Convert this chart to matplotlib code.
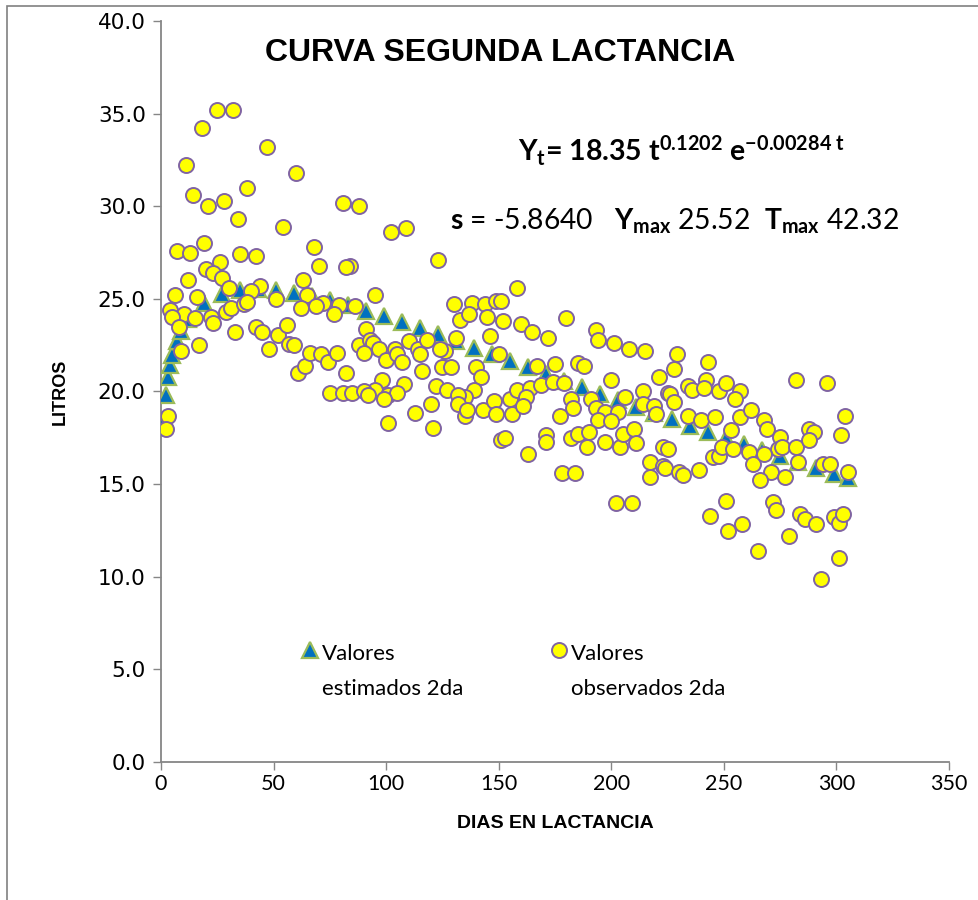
import matplotlib
matplotlib.use("Agg")
import matplotlib.pyplot as plt
from matplotlib.legend_handler import HandlerLine2D
from matplotlib.patches import Rectangle
from matplotlib.ticker import FormatStrFormatter

plt.rcParams['mathtext.fontset'] = 'custom'
plt.rcParams['mathtext.rm'] = 'Lato'
plt.rcParams['mathtext.bf'] = 'Lato:bold'
plt.rcParams['mathtext.it'] = 'Lato:italic'

# estimated values (Wood curve read at each plotted day)
dias_est = [1, 2, 3, 4, 5, 7, 9, 12, 19, 27, 35, 43, 51, 59, 67, 75, 83, 91, 99, 107,
            115, 123, 131, 139, 147, 155, 163, 171, 179, 187, 195, 203, 211, 219, 227,
            235, 243, 251, 259, 267, 275, 283, 291, 299, 305]
litros_est = [18.30, 19.83, 20.76, 21.43, 21.95, 22.73, 23.29, 23.91, 24.77, 25.26, 25.47,
              25.52, 25.47, 25.33, 25.15, 24.92, 24.66, 24.37, 24.06, 23.75, 23.41, 23.08,
              22.73, 22.37, 22.02, 21.66, 21.31, 20.95, 20.59, 20.23, 19.88, 19.53, 19.18,
              18.83, 18.49, 18.15, 17.81, 17.48, 17.15, 16.83, 16.51, 16.19, 15.88, 15.57,
              15.35]

# observed values
dias_obs = [25, 32, 18, 47, 11, 60, 38, 14, 21, 28, 34, 54, 7, 13, 19, 35, 42, 68, 70, 20,
            26, 23, 27, 30, 12, 63, 6, 16, 44, 40, 51, 65, 72, 4, 10, 15, 22, 29, 31, 37,
            38, 62, 69, 5, 8, 23, 33,
            9, 17, 42, 45, 48, 52, 56, 57, 59, 61, 64, 66, 71, 74, 75, 3, 2,
            81, 88, 102, 109, 123, 84, 82, 95, 79, 86, 77, 91, 88, 93, 94, 97, 90, 78, 82,
            100, 104, 105, 107, 110, 114, 115, 118, 116, 126, 124, 125, 129, 131, 130, 138,
            144, 149, 133, 137, 145, 146, 140, 142, 108, 98, 95, 81, 85, 90, 101, 105, 122,
            127, 139, 135, 132,
            92, 99, 101, 113, 120, 121, 132, 135, 136, 143, 148, 149, 151,
            158, 151, 180, 152, 160, 165, 172, 193, 194, 201, 208, 215, 150, 175, 167, 185,
            188, 200, 221, 155, 158, 164, 169, 174, 179, 162, 156, 161, 177, 182, 183, 191,
            193, 197, 203, 206, 214, 214, 219, 220, 225, 194, 200, 153, 163, 171, 171, 182,
            185, 190, 189, 197, 204, 205, 210, 211, 217, 223, 223, 178, 184,
            202, 209, 217, 224,
            229, 228, 243, 234, 236, 242, 241, 248, 251, 257, 255, 226, 228, 234, 240, 246,
            257, 262, 253, 268, 269, 275, 274, 276, 282, 282, 296, 304, 302, 288, 290, 288,
            283, 294, 297, 305, 225, 245, 248, 249, 254, 261, 263, 268, 271, 277, 230, 232,
            239, 266,
            251, 244, 252, 258, 265, 272, 273, 279, 284, 286, 291, 299, 301, 303, 301, 293]
litros_obs = [35.2, 35.2, 34.2, 33.2, 32.2, 31.8, 31.0, 30.6, 30.0, 30.3, 29.3, 28.9, 27.6,
              27.5, 28.0, 27.4, 27.3, 27.8, 26.8, 26.6, 27.0, 26.4, 26.1, 25.6, 26.0, 26.0,
              25.2, 25.1, 25.7, 25.4, 25.0, 25.2, 24.8, 24.4, 24.2, 23.95, 24.0, 24.3, 24.5,
              24.7, 24.85, 24.5, 24.6, 24.0, 23.5, 23.7, 23.2,
              22.2, 22.5, 23.5, 23.2, 22.3, 23.05, 23.6, 22.55, 22.5, 21.0, 21.4, 22.1, 22.0,
              21.6, 19.9, 18.7, 18.0,
              30.2, 30.0, 28.6, 28.8, 27.1, 26.8, 26.7, 25.2, 24.65, 24.6, 24.2, 23.4, 22.5,
              22.8, 22.6, 22.3, 22.1, 22.1, 21.0, 21.7, 22.3, 22.0, 21.6, 22.7, 22.3, 22.0,
              22.8, 21.1, 22.2, 22.3, 21.3, 21.3, 22.9, 24.75, 24.8, 24.7, 24.9, 23.85, 24.2,
              24.0, 23.0, 21.3, 20.8, 20.4, 20.6, 20.1, 19.9, 19.9, 20.0, 19.8, 19.9, 20.3,
              20.1, 20.1, 19.7, 19.8,
              19.8, 19.6, 18.3, 18.85, 19.35, 18.05, 19.35, 18.7, 19.0, 19.0, 19.5, 18.8, 17.4,
              25.6, 24.9, 23.95, 23.8, 23.65, 23.2, 22.9, 23.3, 22.8, 22.6, 22.3, 22.2, 22.0,
              21.5, 21.4, 21.55, 21.4, 20.6, 20.8, 19.6, 20.1, 20.2, 20.35, 20.5, 20.45, 19.7,
              18.8, 19.2, 18.7, 19.6, 19.1, 19.6, 19.1, 18.9, 18.9, 19.7, 20.0, 19.35, 19.2,
              18.8, 19.9, 18.45, 18.4, 17.5, 16.65, 17.65, 17.3, 17.5, 17.7, 17.8, 17.0, 17.25,
              17.0, 17.7, 18.0, 17.2, 16.2, 17.0, 16.0, 15.6, 15.6,
              14.0, 14.0, 15.4, 15.85,
              22.0, 21.2, 21.6, 20.3, 20.1, 20.6, 20.2, 20.0, 20.45, 20.05, 19.6, 19.85, 19.45,
              18.7, 18.45, 18.6, 18.6, 19.0, 17.9, 18.45, 17.95, 17.55, 16.9, 17.0, 17.0, 20.6,
              20.45, 18.7, 17.65, 18.0, 17.8, 17.4, 16.2, 16.1, 16.1, 15.65, 16.9, 16.45, 16.5,
              17.0, 16.9, 16.75, 16.1, 16.6, 15.65, 15.4, 15.65, 15.5, 15.75, 15.2,
              14.1, 13.3, 12.45, 12.85, 11.4, 14.05, 13.6, 12.2, 13.4, 13.1, 12.85, 13.2, 12.9,
              13.4, 11.0, 9.9]

grey = '#868686'

fig = plt.figure(figsize=(9.79, 9), dpi=100)
# outer chart border (left and top edges visible, others run off the picture)
fig.patches.append(Rectangle((7, -100), 1000, 994, transform=None, fill=False,
                             edgecolor='#808080', linewidth=1.2))

ax = fig.add_axes([161 / 979, 138 / 900, 788 / 979, 741 / 900])

l_est, = ax.plot(dias_est, litros_est, linestyle='none', marker='^', markersize=12,
                 markerfacecolor='#0070C0', markeredgecolor='#9BBB59', markeredgewidth=1.6,
                 label='Valores\nestimados 2da', zorder=3)
l_obs, = ax.plot(dias_obs, litros_obs, linestyle='none', marker='o', markersize=10.8,
                 markerfacecolor='#FFFF00', markeredgecolor='#8064A2', markeredgewidth=1.4,
                 label='Valores\nobservados 2da', zorder=4)

ax.set_xlim(0, 350)
ax.set_ylim(0, 40)
ax.set_xticks(range(0, 351, 50))
ax.set_yticks(range(0, 41, 5))
ax.yaxis.set_major_formatter(FormatStrFormatter('%.1f'))

for s in ['top', 'right']:
    ax.spines[s].set_visible(False)
for s in ['left', 'bottom']:
    ax.spines[s].set_color(grey)
    ax.spines[s].set_linewidth(1.3)

ax.tick_params(direction='out', length=6, width=1, color=grey)
ax.tick_params(axis='y', pad=5, labelsize=15.5)
ax.tick_params(axis='x', pad=3, labelsize=15.5)
for lab in ax.get_xticklabels():
    lab.set_family('Lato')
for lab in ax.get_yticklabels():
    lab.set_family('DejaVu Sans')

ax.set_xlabel('DIAS EN LACTANCIA', family='Liberation Sans', weight='bold', fontsize=14,
              labelpad=15)
ax.set_ylabel('LITROS', family='Liberation Sans', weight='bold', fontsize=13, labelpad=21)

fig.text(500 / 979, 1 - 53 / 900, 'CURVA SEGUNDA LACTANCIA', ha='center', va='center',
         family='Liberation Sans', weight='bold', fontsize=23)
fig.text(518 / 979, 1 - 161 / 900,
         r'Y$_\mathbf{t}$= 18.35 t$^\mathbf{0.1202}$ e$^\mathbf{-0.00284\ t}$',
         family='Lato', weight='bold', fontsize=20.5, va='baseline')
fig.text(450 / 979, 1 - 229 / 900,
         r'$\mathbf{s}$ = -5.8640   $\mathbf{Y_{max}}$ 25.52  $\mathbf{T_{max}}$ 42.32',
         family='Lato', fontsize=20.3, va='baseline')


class FirstLineHandler(HandlerLine2D):
    def create_artists(self, legend, orig_handle, xdescent, ydescent, width, height,
                       fontsize, trans):
        return super().create_artists(legend, orig_handle, xdescent,
                                      ydescent - 2.0 * fontsize, width, height,
                                      fontsize, trans)


leg = ax.legend(handles=[l_est, l_obs], ncol=2, frameon=False, loc='upper left',
                bbox_to_anchor=(301 / 979, 1 - 644 / 900), bbox_transform=fig.transFigure,
                borderpad=0, borderaxespad=0, handlelength=0.8, handletextpad=0.15,
                columnspacing=3.9, numpoints=1,
                prop={'family': 'Lato', 'size': 16},
                handler_map={l_est: FirstLineHandler(), l_obs: FirstLineHandler()})
for t in leg.get_texts():
    t.set_linespacing(1.95)

fig.savefig('out.png', dpi=100)
